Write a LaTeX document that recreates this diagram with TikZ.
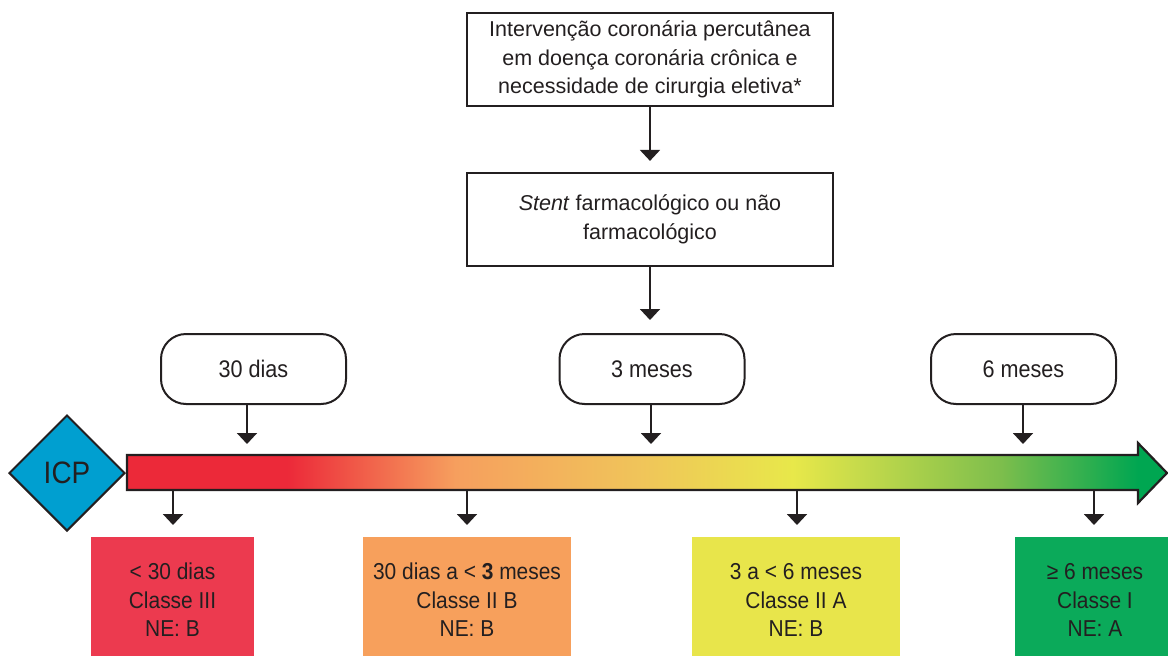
\documentclass[tikz,border=0pt]{standalone}
\usepackage{fontspec}
\setmainfont{Liberation Sans}
\newfontfamily\pillfam[FakeStretch=0.90]{Liberation Sans}
\newfontfamily\classfam[FakeStretch=0.91]{Liberation Sans}
\usetikzlibrary{shapes.geometric,arrows.meta,calc}

\definecolor{ink}{HTML}{231F20}
\definecolor{icpblue}{HTML}{009FD0}
\definecolor{tlred}{HTML}{EC2939}
\definecolor{tlorange}{HTML}{F69F5E}
\definecolor{tlamber}{HTML}{F0C45A}
\definecolor{tlyellow}{HTML}{E8E84A}
\definecolor{tllime}{HTML}{7DBE4C}
\definecolor{tlgreen}{HTML}{00A651}
\definecolor{boxred}{HTML}{EC3A4F}
\definecolor{boxorange}{HTML}{F7A05C}
\definecolor{boxyellow}{HTML}{E8E54B}
\definecolor{boxgreen}{HTML}{0BAA5A}

% colour ramp of the time axis (useful range 25bp..75bp)
\pgfdeclarehorizontalshading{timeline}{100bp}{%
  color(0bp)=(tlred); color(32.7bp)=(tlred); color(40.8bp)=(tlorange);
  color(49.6bp)=(tlamber); color(57bp)=(tlyellow); color(67bp)=(tllime);
  color(73.6bp)=(tlgreen); color(100bp)=(tlgreen)}

\newcommand{\boxfont}{\fontsize{21.5}{28.5}\selectfont}
\newcommand{\pillfont}{\pillfam\fontsize{24}{28.5}\selectfont}
\newcommand{\classfont}{\classfam\fontsize{23}{28.5}\selectfont}

\begin{document}
\begin{tikzpicture}[x=1pt,y=-1pt,
  every node/.style={text=ink, align=center, inner sep=0pt},
  squarebox/.style={draw=ink, line width=2.2pt, fill=white, font=\boxfont,
    minimum width=366pt, minimum height=93pt},
  pillbox/.style={draw=ink, line width=2pt, fill=white, rounded corners=25pt,
    font=\pillfont, minimum width=185pt, minimum height=70pt},
  classbox/.style={font=\classfont, minimum height=126pt},
  arr/.style={draw=ink, line width=2pt, -{Triangle[width=20pt,length=11pt]}}]
\useasboundingbox (0,0) rectangle (1168,656);

% decision chain
\node[squarebox] (pci) at (650,59.5)
  {Intervenção coronária percutânea\\em doença coronária crônica e\\necessidade de cirurgia eletiva*};
\node[squarebox] (stent) at (650,219.5)
  {\textit{Stent} farmacológico ou não\\farmacológico};
\coordinate (stentend) at (650,320);
\draw[arr] (pci.south) -- ($(stent.north)+(0,-11)$);
\draw[arr] (stent.south) -- (stentend);

% time marks
\node[pillbox] (m30) at (253.5,369) {30 dias};
\node[pillbox] (m3) at (652,369) {3 meses};
\node[pillbox] (m6) at (1023.5,369) {6 meses};
\coordinate (t1) at (247,444);
\coordinate (t2) at (651,444);
\coordinate (t3) at (1023,444);
\draw[arr] (m30.south -| t1) -- (t1);
\draw[arr] (m3.south -| t2) -- (t2);
\draw[arr] (m6.south -| t3) -- (t3);

% time axis
\path[draw=ink, line width=2.2pt, shading=timeline]
  (127,455) -- (1138,455) -- (1138,443) -- (1167,473) -- (1138,503)
  -- (1138,490) -- (127,490) -- cycle;
\node[diamond, draw=ink, line width=2pt, fill=icpblue, minimum width=116pt,
  minimum height=116pt, font=\pillfam\fontsize{31}{31}\selectfont] (icp) at (67,473) {ICP};

% recommendation classes
\node[classbox, fill=boxred, minimum width=163pt] (c1) at (172.5,600)
  {< 30 dias\\Classe III\\NE: B};
\node[classbox, fill=boxorange, minimum width=208pt] (c2) at (467,600)
  {30 dias a < {\bfseries 3} meses\\Classe II B\\NE: B};
\node[classbox, fill=boxyellow, minimum width=208pt] (c3) at (796,600)
  {3 a < 6 meses\\Classe II A\\NE: B};
\node[classbox, fill=boxgreen, minimum width=160pt] (c4) at (1095,600)
  {≥ 6 meses\\Classe I\\NE: A};
\coordinate (d1) at (173,490);
\coordinate (d2) at (467,490);
\coordinate (d3) at (797,490);
\coordinate (d4) at (1094,490);
\draw[arr] (d1) -- (d1 |- 0,525);
\draw[arr] (d2) -- (d2 |- 0,525);
\draw[arr] (d3) -- (d3 |- 0,525);
\draw[arr] (d4) -- (d4 |- 0,525);
\end{tikzpicture}
\end{document}
